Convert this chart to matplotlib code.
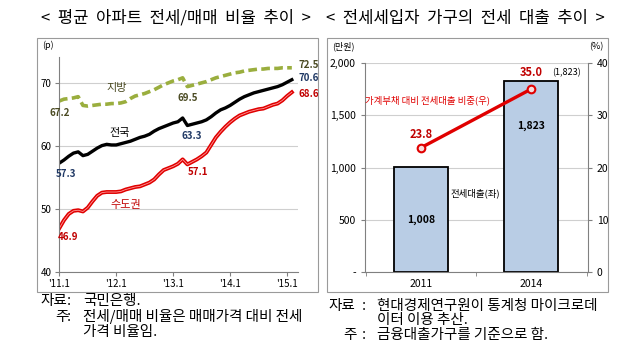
import matplotlib
matplotlib.use('Agg')
import matplotlib.pyplot as plt
from matplotlib.patches import Rectangle
import numpy as np

plt.rcParams['font.family'] = ['Noto Sans CJK KR', 'DejaVu Sans']

# left chart: monthly ratio, '11.1 ~ '15.2
months = list(range(50))
xtick_pos = [0, 12, 24, 36, 48]
xtick_labels = ["'11.1", "'12.1", "'13.1", "'14.1", "'15.1"]
jiban = [67.2, 67.5, 67.6, 67.7, 67.9, 66.5, 66.4, 66.5, 66.6, 66.7,
         66.7, 66.8, 66.8, 66.9, 67.1, 67.6, 68.0, 68.2, 68.4, 68.7,
         69.0, 69.4, 69.8, 70.1, 70.4, 70.6, 70.9, 69.5, 69.7, 69.9,
         70.1, 70.3, 70.6, 70.9, 71.1, 71.3, 71.5, 71.7, 71.8, 72.0,
         72.1, 72.2, 72.3, 72.3, 72.4, 72.4, 72.4, 72.5, 72.5, 72.5]
jeonguk = [57.3, 57.8, 58.4, 58.9, 59.1, 58.5, 58.7, 59.2, 59.7, 60.1,
           60.3, 60.2, 60.2, 60.4, 60.6, 60.8, 61.1, 61.4, 61.6, 61.9,
           62.4, 62.8, 63.1, 63.4, 63.7, 63.9, 64.5, 63.3, 63.5, 63.7,
           63.9, 64.2, 64.7, 65.3, 65.8, 66.1, 66.5, 67.0, 67.5, 67.9,
           68.2, 68.5, 68.7, 68.9, 69.1, 69.3, 69.5, 69.8, 70.2, 70.6]
sudo = [46.9, 48.2, 49.2, 49.7, 49.8, 49.6, 50.2, 51.2, 52.1, 52.6,
        52.7, 52.7, 52.7, 52.8, 53.1, 53.3, 53.5, 53.6, 53.9, 54.2,
        54.7, 55.5, 56.2, 56.5, 56.8, 57.2, 57.9, 57.1, 57.5, 57.9,
        58.4, 59.0, 60.2, 61.4, 62.3, 63.1, 63.8, 64.4, 64.9, 65.2,
        65.5, 65.7, 65.9, 66.0, 66.3, 66.6, 66.8, 67.3, 68.0, 68.6]

# right chart
years = ['2011', '2014']
loan = [1008, 1823]
share = [23.8, 35.0]

W, H = 640, 356
fig = plt.figure(figsize=(6.4, 3.56), dpi=100)

def fx(x):
    return x / W

def fy(y):
    return 1 - y / H

# panel frames
for x0, x1 in [(36.5, 318), (327, 607.5)]:
    fig.patches.append(Rectangle((fx(x0), fy(291.5)), fx(x1 - x0), (291.5 - 37.5) / H,
                                 transform=fig.transFigure, fill=False,
                                 edgecolor='#9a9a9a', lw=0.8))

fig.text(fx(176), fy(18), '<  평균  아파트  전세/매매  비율  추이  >', ha='center', va='center', fontsize=12)
fig.text(fx(465), fy(18), '<  전세세입자  가구의  전세  대출  추이  >', ha='center', va='center', fontsize=12)

# ---- left chart ----
ax = fig.add_axes([fx(58.5), fy(271.7), fx(298 - 58.5), (271.7 - 56.5) / H])
ax.set_xlim(-0.15, 50.3)
ax.set_ylim(40, 74.3)
ax.set_yticks([40, 50, 60, 70])
ax.set_xticks(xtick_pos)
ax.set_xticklabels(xtick_labels)
ax.tick_params(labelsize=7, length=3, color='#808080', pad=2)
ax.grid(axis='y', color='#cfcfcf', lw=0.8)
ax.set_axisbelow(True)
for s in ['top', 'right']:
    ax.spines[s].set_visible(False)
for s in ['left', 'bottom']:
    ax.spines[s].set_color('#808080')

ax.plot(months, jiban, color='#9aae3e', lw=2.6, dashes=(2.4, 1.2))
ax.plot(months, jeonguk, color='black', lw=2.4)
ax.plot(months, sudo, color='#e00000', lw=2.8)
ax.plot(months, sudo, color='#ff9a9a', lw=0.6)

olive_txt = '#4a4a22'
navy = '#1f3864'
red_txt = '#c00000'
ax.text(0.1, 67.2 - 1.1, '67.2', color=olive_txt, fontsize=7, fontweight='bold', ha='center', va='top')
ax.text(27, 69.5 - 1.0, '69.5', color=olive_txt, fontsize=7, fontweight='bold', ha='center', va='top')
ax.text(50.5, 72.5 + 0.4, '72.5', color=olive_txt, fontsize=7, fontweight='bold', ha='left', va='center')
ax.text(12.2, 69.3, '지방', color=olive_txt, fontsize=8, ha='center', va='center')
ax.text(1.5, 57.3 - 0.9, '57.3', color=navy, fontsize=7, fontweight='bold', ha='center', va='top')
ax.text(28, 63.3 - 0.8, '63.3', color=navy, fontsize=7, fontweight='bold', ha='center', va='top')
ax.text(50.5, 70.6 + 0.2, '70.6', color=navy, fontsize=7, fontweight='bold', ha='left', va='center')
ax.text(12.8, 62.1, '전국', color='black', fontsize=8, ha='center', va='center')
ax.text(1.9, 46.9 - 0.6, '46.9', color=red_txt, fontsize=7, fontweight='bold', ha='center', va='top')
ax.text(29.3, 57.1 - 0.4, '57.1', color=red_txt, fontsize=7, fontweight='bold', ha='center', va='top')
ax.text(50.5, 68.6 - 0.3, '68.6', color=red_txt, fontsize=7, fontweight='bold', ha='left', va='center')
ax.text(14.1, 50.6, '수도권', color=red_txt, fontsize=8, ha='center', va='center')
fig.text(fx(42), fy(45), '(p)', fontsize=6.5, ha='left', va='center')

# ---- right chart ----
ax2 = fig.add_axes([fx(365), fy(272.3), fx(587.7 - 365), (272.3 - 62.7) / H])
x = np.arange(len(years))
ax2.bar(x, loan, width=0.49, color='#b9cde5', edgecolor='black', lw=1.3, zorder=2)
ax2.set_xlim(-0.51, 1.51)
ax2.set_ylim(0, 2000)
ax2.set_yticks([0, 500, 1000, 1500, 2000])
ax2.set_yticklabels(['-', '500', '1,000', '1,500', '2,000'])
ax2.set_xticks(x)
ax2.set_xticklabels(years)
ax2.set_xticks([-0.5, 0.5, 1.5], minor=True)
ax2.tick_params(axis='x', which='major', length=0, labelsize=7.5, pad=5)
ax2.tick_params(axis='x', which='minor', length=3, color='#808080')
ax2.tick_params(axis='y', labelsize=7.5, length=3, color='#808080')
ax2.grid(axis='y', color='#cfcfcf', lw=0.8)
ax2.set_axisbelow(True)
ax2.spines['top'].set_visible(False)
for s in ['left', 'right', 'bottom']:
    ax2.spines[s].set_color('#808080')
for xi, v in zip(x, loan):
    lbl = f'{v:,}'
    yy = v / 2 if xi == 0 else 1400
    ax2.text(xi, yy, lbl, ha='center', va='center', fontsize=7.5, fontweight='bold')
ax2.text(1.32, 1905, f'({loan[1]:,})', ha='center', va='center', fontsize=6.5)
ax2.text(0.49, 755, '전세대출(좌)', ha='center', va='center', fontsize=6.8)

ax3 = ax2.twinx()
ax3.set_ylim(0, 40)
ax3.set_yticks([0, 10, 20, 30, 40])
ax3.tick_params(axis='y', labelsize=7.5, length=3, color='#808080')
for s in ['left', 'right', 'bottom', 'top']:
    ax3.spines[s].set_visible(False)
ax3.plot(x, share, color='#e00000', lw=2.4, marker='o', ms=5.5,
         markerfacecolor='#f6dcdc', markeredgecolor='#e00000', markeredgewidth=1.5, zorder=3)
ax3.text(x[0], share[0] + 2.5, f'{share[0]:.1f}', color=red_txt, fontsize=8, fontweight='bold', ha='center', va='center')
ax3.text(x[1], share[1] + 3.2, f'{share[1]:.1f}', color=red_txt, fontsize=8, fontweight='bold', ha='center', va='center')
ax3.text(-0.51, 32.8, '가계부채 대비 전세대출 비중(우)', color='#e00000', fontsize=6.8, ha='left', va='center')
fig.text(fx(343), fy(46.5), '(만원)', fontsize=6.5, ha='center', va='center')
fig.text(fx(596), fy(46.5), '(%)', fontsize=6.5, ha='center', va='center')

# notes
fs = 10.5
fig.text(fx(40), fy(301), '자료', fontsize=fs, ha='left', va='center')
fig.text(fx(69), fy(301), ':', fontsize=fs, ha='center', va='center')
fig.text(fx(83), fy(301), '국민은행.', fontsize=fs, ha='left', va='center')
fig.text(fx(55), fy(317), '주', fontsize=fs, ha='left', va='center')
fig.text(fx(69), fy(317), ':', fontsize=fs, ha='center', va='center')
fig.text(fx(83), fy(317), '전세/매매 비율은 매매가격 대비 전세', fontsize=fs, ha='left', va='center')
fig.text(fx(83), fy(332), '가격 비율임.', fontsize=fs, ha='left', va='center')

fig.text(fx(328), fy(306), '자료', fontsize=fs, ha='left', va='center')
fig.text(fx(364), fy(306), ':', fontsize=fs, ha='center', va='center')
fig.text(fx(377), fy(306), '현대경제연구원이 통계청 마이크로데', fontsize=fs, ha='left', va='center')
fig.text(fx(377), fy(320), '이터 이용 추산.', fontsize=fs, ha='left', va='center')
fig.text(fx(343), fy(335), '주', fontsize=fs, ha='left', va='center')
fig.text(fx(364), fy(335), ':', fontsize=fs, ha='center', va='center')
fig.text(fx(377), fy(335), '금융대출가구를 기준으로 함.', fontsize=fs, ha='left', va='center')

fig.savefig('out.png', dpi=100)
